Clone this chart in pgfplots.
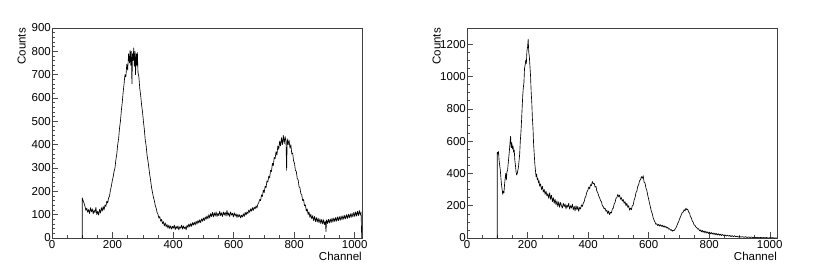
\documentclass[border=0pt]{standalone}
\usepackage{fontspec}
\setmainfont{Liberation Sans}
\usepackage{pgfplots}
\pgfplotsset{compat=1.18}
\pgfplotsset{
  rootstyle/.style={
    scale only axis, width=310bp, height=210bp,
    xmin=0, xmax=1024, ymin=0,
    axis line style={line width=0.6pt, black!75},
    tick align=inside, xtick pos=lower, ytick pos=left,
    major tick length=6bp, minor tick length=3bp,
    every tick/.style={black!70, line width=0.5pt},
    xtick={0,200,...,1000}, minor x tick num=3,
    /pgf/number format/assume math mode=true,
    /pgf/number format/1000 sep={},
    tick label style={font=\fontsize{11.5bp}{13bp}\selectfont},
    xticklabel style={inner sep=1bp, yshift=-1bp},
    yticklabel style={inner sep=1bp},
    label style={font=\fontsize{11.5bp}{13bp}\selectfont},
    xlabel={Channel},
    xlabel style={at={(axis description cs:1,0)}, anchor=north east, inner sep=0pt, yshift=-14bp},
    ylabel={Counts},
    ylabel style={at={(axis description cs:-0.084,1)}, anchor=south east, inner sep=0pt},
    clip=true,
  }
}
\begin{document}
\begin{tikzpicture}[x=1bp,y=1bp]
\path[use as bounding box] (0,0) rectangle (830,273);
\begin{axis}[rootstyle, at={(52bp,35bp)}, anchor=south west,
  ymax=900, ytick={0,100,...,900}, minor y tick num=4]
\addplot[black, line width=0.65pt, line join=round] coordinates {
(100,0)(100,172)(103,160)(106,148)(109,135)(112,118)(115,128)(118,110)(121,122)(124,105)(127,130)(130,112)(133,125)(136,104)(139,120)(142,108)(145,131)(148,100)(151,115)(154,98)(157,122)(160,107)(163,130)(166,115)(169,135)(172,120)(175,142)(178,135)(181,158)(184,150)(187,172)(190,180)(193,205)(196,222)(199,245)
(202,262)(205,285)(208,300)(211,335)(214,360)(217,400)(220,425)(223,470)(226,500)(229,545)(232,580)(235,625)(238,660)(241,700)(244,690)(247,745)(250,720)(253,790)(256,750)(258,805)(260,740)(262,800)(264,660)(266,790)(268,760)(270,815)(272,735)(274,800)(276,700)(278,790)(280,740)(282,795)(284,710)(287,690)(290,640)(293,610)(296,570)(299,540)
(302,500)(305,465)(308,420)(311,395)(314,355)(317,330)(320,300)(323,270)(326,245)(329,215)(332,195)(335,175)(338,160)(341,140)(344,128)(347,110)(350,102)(353,85)(356,92)(359,72)(362,80)(365,62)(368,70)(371,52)(374,65)(377,48)(380,58)(383,42)(386,55)(389,40)(392,52)(395,38)(398,50)
(401,42)(404,55)(407,36)(410,50)(413,40)(416,52)(419,35)(422,48)(425,42)(428,55)(431,38)(434,52)(437,40)(440,48)(443,35)(446,55)(449,45)(452,60)(455,48)(458,62)(461,50)(464,66)(467,55)(470,68)(473,56)(476,72)(479,60)(482,75)(485,64)(488,78)(491,66)(494,82)(497,72)
(500,86)(503,74)(506,90)(509,80)(512,95)(515,82)(518,100)(521,86)(524,105)(527,92)(530,110)(533,90)(536,108)(539,94)(542,112)(545,92)(548,106)(551,95)(554,115)(557,96)(560,108)(563,92)(566,112)(569,98)(572,110)(575,94)(578,118)(581,96)(584,108)(587,92)(590,112)(593,98)(596,106)(599,90)(602,108)(605,94)(608,104)(611,88)(614,102)(617,90)(620,100)(623,86)(626,98)(629,90)(632,104)(635,92)(638,110)(641,98)(644,112)(647,104)
(650,120)(653,110)(656,125)(659,115)(662,130)(665,118)(668,132)(671,125)(674,138)(677,128)(680,145)(683,152)(686,165)(689,160)(692,185)(695,178)(698,205)(701,195)(704,222)(707,215)(710,245)(713,240)(716,265)(719,258)(722,290)(725,285)(728,320)(731,310)(734,345)(737,340)(740,370)(743,355)(746,395)(749,380)(752,415)(755,395)(758,430)(761,400)(764,440)(767,405)(770,435)(773,410)(775,290)(777,425)(780,400)(783,420)(786,385)(789,400)(792,360)(795,365)(798,330)
(801,320)(804,290)(807,285)(810,255)(813,250)(816,220)(819,215)(822,190)(825,185)(828,160)(831,165)(834,138)(837,142)(840,115)(843,125)(846,100)(849,112)(852,88)(855,102)(858,82)(861,96)(864,75)(867,92)(870,70)(873,88)(876,68)(879,85)(882,65)(885,82)(888,62)(891,80)(894,60)(897,78)
(900,58)(903,72)(905,28)(907,78)(910,62)(913,80)(916,64)(919,82)(922,66)(925,85)(928,68)(931,86)(934,70)(937,88)(940,72)(943,90)(946,74)(949,92)(952,76)(955,94)(958,78)(961,96)(964,80)(967,98)(970,82)(973,100)(976,84)(979,102)(982,86)(985,104)(988,88)(991,106)(994,90)(997,110)(1000,92)(1003,112)(1006,94)(1009,115)(1012,96)(1015,118)(1018,98)(1021,112)(1023,0)
};
\end{axis}
\begin{axis}[rootstyle, at={(467bp,35bp)}, anchor=south west,
  ymax=1300, ytick={0,200,...,1200}, minor y tick num=3]
\addplot[black, line width=0.65pt, line join=round] coordinates {
(100,0)(100,530)(102,520)(104,535)(106,480)(108,450)(110,420)(112,370)(114,330)(116,300)(118,270)(120,290)(122,280)(124,330)(126,370)(128,400)(130,360)(132,410)(134,420)(136,460)(138,500)(140,540)(142,590)(144,630)(146,560)(148,590)(150,550)(152,570)(154,530)(156,545)(158,480)(160,450)(162,410)(164,390)(166,400)(168,420)(170,440)(172,480)(174,520)(176,600)(178,650)(180,720)(182,800)(184,880)(186,930)(188,960)(190,1050)(192,1070)(194,1100)(196,1080)(198,1160)(200,1180)(202,1230)(204,1150)(206,1120)(208,1060)(210,1000)(212,900)(214,840)(216,740)(218,680)(220,580)(222,520)(224,460)(226,420)(228,380)(230,395)(232,360)(234,370)(236,340)(238,355)(240,320)(243,335)(246,300)(249,320)(252,285)(255,300)(258,270)(261,290)(264,260)(267,275)(270,245)(273,280)(276,240)(279,265)(282,225)(285,250)(288,215)(291,240)(294,205)(297,230)
(300,195)(303,225)(306,190)(309,220)(312,200)(315,185)(318,215)(321,195)(324,210)(327,180)(330,205)(333,190)(336,215)(339,178)(342,200)(345,185)(348,210)(351,175)(354,195)(357,168)(360,200)(363,175)(366,195)(369,165)(372,190)(375,180)(378,205)(381,195)(384,215)(387,225)(390,250)(393,260)(396,285)(399,295)
(402,315)(405,305)(408,330)(411,325)(414,350)(417,335)(420,340)(423,315)(426,320)(429,290)(432,280)(435,260)(438,250)(441,232)(444,225)(447,200)(450,195)(453,180)(456,185)(459,165)(462,172)(465,150)(468,168)(471,145)(474,160)(477,155)(480,180)(483,185)(486,210)(489,220)(492,245)(495,250)(498,270)
(501,255)(504,265)(507,240)(510,250)(513,228)(516,238)(519,215)(522,225)(525,200)(528,215)(531,190)(534,200)(537,172)(540,185)(543,175)(546,200)(549,205)(552,235)(555,250)(558,280)(561,290)(564,320)(567,330)(570,355)(573,360)(576,380)(579,370)(582,385)(585,345)(588,340)(591,310)(594,295)(597,265)
(600,240)(603,215)(606,190)(609,165)(612,150)(615,125)(618,110)(621,98)(624,85)(627,88)(630,76)(633,85)(636,74)(639,82)(642,72)(645,80)(648,68)(651,76)(654,66)(657,72)(660,62)(663,66)(666,55)(669,58)(672,48)(675,52)(678,42)(681,48)(684,45)(687,55)(690,62)(693,75)(696,90)(699,100)
(702,118)(705,130)(708,145)(711,158)(714,160)(717,175)(720,168)(723,185)(726,175)(729,178)(732,160)(735,155)(738,132)(741,125)(744,105)(747,98)(750,82)(753,78)(756,68)(759,64)(762,55)(765,58)(768,45)(771,50)(774,38)(777,48)(780,35)(783,44)(786,32)(789,42)(792,30)(795,38)(798,28)
(801,36)(804,26)(807,34)(810,24)(813,32)(816,22)(819,30)(822,20)(825,28)(828,18)(831,26)(834,17)(837,24)(840,15)(844,22)(848,14)(852,20)(856,12)(860,18)(864,11)(868,16)(872,9)(876,15)(880,8)(884,14)(888,7)(892,12)(896,6)
(900,10)(905,5)(910,9)(915,4)(920,8)(925,3)(930,7)(935,3)(940,6)(945,2)(950,5)(955,2)(960,4)(965,1)(970,4)(975,1)(980,3)(985,1)(990,3)(995,0)(1000,2)(1005,1)(1010,2)(1015,0)(1020,1)(1023,0)
};
\end{axis}
\end{tikzpicture}
\end{document}
